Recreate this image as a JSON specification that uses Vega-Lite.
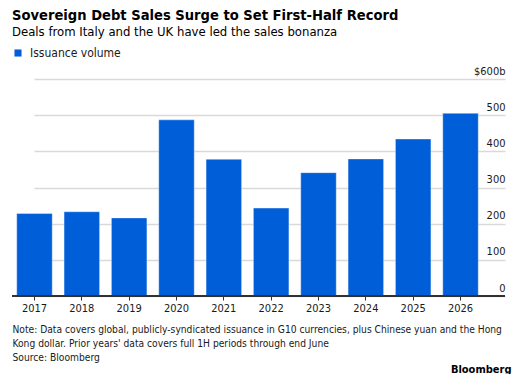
{
  "$schema": "https://vega.github.io/schema/vega-lite/v6.json",
  "autosize": "none",
  "width": 493,
  "height": 217,
  "padding": {"left": 12, "top": 79, "right": 8, "bottom": 78},
  "background": "#ffffff",
  "config": {
    "font": "DejaVu Sans Condensed",
    "view": {"stroke": null}
  },
  "title": {
    "text": "Sovereign Debt Sales Surge to Set First-Half Record",
    "subtitle": "Deals from Italy and the UK have led the sales bonanza",
    "anchor": "start",
    "frame": "group",
    "fontSize": 14.6,
    "fontWeight": "bold",
    "color": "#000000",
    "subtitleFontSize": 13,
    "subtitleColor": "#000000",
    "subtitlePadding": 3,
    "offset": 8
  },
  "data": {
    "values": [
      {"year": "2017", "volume": 228},
      {"year": "2018", "volume": 233},
      {"year": "2019", "volume": 216},
      {"year": "2020", "volume": 487},
      {"year": "2021", "volume": 378},
      {"year": "2022", "volume": 243},
      {"year": "2023", "volume": 341},
      {"year": "2024", "volume": 379},
      {"year": "2025", "volume": 434},
      {"year": "2026", "volume": 505}
    ]
  },
  "layer": [
    {
      "mark": {"type": "bar", "stroke": "#ffffff", "strokeWidth": 0.6, "strokeOpacity": 0.6},
      "encoding": {
        "x": {
          "field": "year",
          "type": "ordinal",
          "scale": {"range": [0, 471], "paddingInner": 0.25, "paddingOuter": 0.1},
          "axis": {
            "labelAngle": 0,
            "labelFontSize": 11,
            "labelColor": "#1a1a1a",
            "labelPadding": 2,
            "tickSize": 4,
            "tickColor": "#333333",
            "domain": false,
            "title": [
              "Note: Data covers global, publicly-syndicated issuance in G10 currencies, plus Chinese yuan and the Hong",
              "Kong dollar. Prior years' data covers full 1H periods through end June",
              "Source: Bloomberg"
            ],
            "titleFontSize": 10.2,
            "titleFontWeight": "normal",
            "titleColor": "#1a1a1a",
            "titleAnchor": "start",
            "titleAlign": "left",
            "titleBaseline": "top",
            "titleX": 0,
            "titleY": 28,
            "titleLineHeight": 14
          }
        },
        "y": {
          "field": "volume",
          "type": "quantitative",
          "scale": {"domain": [0, 600], "nice": false},
          "axis": {
            "orient": "right",
            "values": [0, 100, 200, 300, 400, 500, 600],
            "labelExpr": "datum.value == 600 ? '$600b' : datum.label",
            "labelAlign": "right",
            "labelBaseline": "alphabetic",
            "labelOffset": -5,
            "labelPadding": 0,
            "labelOverlap": false,
            "labelBound": false,
            "labelFontSize": 11,
            "labelColor": "#1a1a1a",
            "ticks": false,
            "domain": false,
            "grid": true,
            "gridColor": "#d9d9d9",
            "gridWidth": 1.3,
            "title": "Bloomberg",
            "titleAngle": 0,
            "titleAlign": "right",
            "titleBaseline": "bottom",
            "titleX": 6,
            "titleY": 295,
            "titleFontSize": 11,
            "titleFontWeight": "bold",
            "titleColor": "#000000"
          }
        },
        "color": {
          "datum": "Issuance volume",
          "type": "nominal",
          "scale": {"range": ["#005FD8"]},
          "legend": {
            "title": null,
            "orient": "none",
            "legendX": 0,
            "legendY": -32,
            "symbolType": "square",
            "symbolSize": 50,
            "symbolStrokeWidth": 0,
            "labelFontSize": 12,
            "labelColor": "#1a1a1a",
            "labelOffset": 6
          }
        }
      }
    },
    {
      "mark": {"type": "rule", "color": "#333333", "strokeWidth": 1},
      "encoding": {
        "y": {
          "datum": 0,
          "type": "quantitative",
          "scale": {"domain": [0, 600], "nice": false},
          "axis": {
            "orient": "right",
            "values": [0, 100, 200, 300, 400, 500, 600],
            "labelExpr": "datum.value == 600 ? '$600b' : datum.label",
            "labelAlign": "right",
            "labelBaseline": "alphabetic",
            "labelOffset": -5,
            "labelPadding": 0,
            "labelOverlap": false,
            "labelBound": false,
            "labelFontSize": 11,
            "labelColor": "#1a1a1a",
            "ticks": false,
            "domain": false,
            "grid": true,
            "gridColor": "#d9d9d9",
            "gridWidth": 1.3,
            "title": "Bloomberg",
            "titleAngle": 0,
            "titleAlign": "right",
            "titleBaseline": "bottom",
            "titleX": 6,
            "titleY": 295,
            "titleFontSize": 11,
            "titleFontWeight": "bold",
            "titleColor": "#000000"
          }
        }
      }
    }
  ]
}
